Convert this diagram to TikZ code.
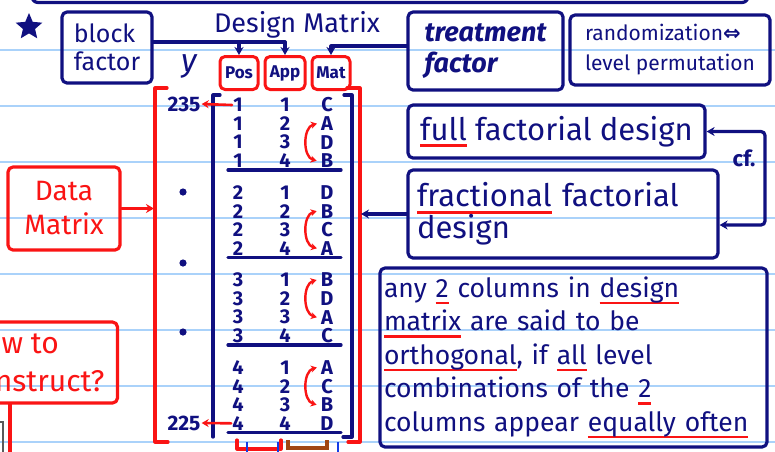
\documentclass[tikz,border=0pt]{standalone}
\usepackage{fontspec}
\setmainfont{Fira Sans}
\newfontfamily\symfont{DejaVu Sans}
\usetikzlibrary{arrows.meta,shapes.geometric}
\definecolor{navy}{RGB}{16,16,128}
\definecolor{inkred}{RGB}{250,20,20}
\definecolor{rulecol}{RGB}{170,210,250}
\definecolor{inkbrown}{RGB}{160,70,20}
\definecolor{inkblue}{RGB}{20,60,230}
\newcommand\redund[1]{\leavevmode\setbox0\hbox{#1}\rlap{\color{inkred}\rule[-7pt]{\wd0}{2.8pt}}\box0\relax}
\tikzset{
 nline/.style={draw=navy, line width=3.2pt, line cap=round, line join=round},
 rline/.style={draw=inkred, line width=3.2pt, line cap=round, line join=round},
 nbox/.style={nline, rounded corners=5pt, rectangle, inner sep=0pt, text=navy},
 rbox/.style={rline, rounded corners=5pt, rectangle, inner sep=0pt},
 cell/.style={text=navy, font=\bfseries\fontsize{20}{20}\selectfont, inner sep=1pt},
 tip/.style={-{Stealth[length=8pt,width=9pt]}},
 rtip/.style={-{Stealth[length=7pt,width=8pt]}},
 swap/.style={draw=inkred, line width=2.4pt, line cap=round, {Stealth[length=6pt,width=7pt]}-{Stealth[length=6pt,width=7pt]}}
}
\begin{document}
\begin{tikzpicture}[x=1pt,y=-1pt]
\useasboundingbox (0,0) rectangle (775,451);
\begin{scope}
\clip (0,0) rectangle (775,451);
\fill[white] (0,0) rectangle (775,451);
\foreach \yy in {50,106,162,218,274,330,386,442} {\draw[rulecol, line width=1.6pt] (0,\yy) -- (775,\yy);}
% top bar (bottom edge of a box above)
\draw[nline, rounded corners=6pt] (32,-40) rectangle (748,2.5);
% star
\node[star, star points=5, star point ratio=2.2, fill=navy, minimum size=28pt, inner sep=0pt] (star) at (29,27) {};
% header boxes
\node[nbox, minimum width=90pt, minimum height=71pt, align=left, font=\fontsize{25}{28}\selectfont] (block) at (107,47.5) {block\\factor};
\node[text=navy, font=\fontsize{27}{27}\selectfont] (dm) at (297,25) {Design Matrix};
\node[rbox, line width=3pt, minimum width=38pt, minimum height=33pt, text=navy, font=\bfseries\fontsize{17}{17}\selectfont] (pos) at (239,73) {Pos};
\node[rbox, line width=3pt, minimum width=40pt, minimum height=33pt, text=navy, font=\bfseries\fontsize{17}{17}\selectfont] (app) at (285,73) {App};
\node[rbox, line width=3pt, minimum width=38pt, minimum height=33pt, text=navy, font=\bfseries\fontsize{17}{17}\selectfont] (mat) at (331,73) {Mat};
\node[text=navy, font=\itshape\fontsize{32}{32}\selectfont] (ylab) at (189,66) {y};
\node[nbox, minimum width=155pt, minimum height=78pt, align=left, font=\bfseries\itshape\fontsize{27}{31}\selectfont] (treat) at (485.5,51) {treatment\\factor};
\node[nbox, minimum width=200pt, minimum height=70pt, align=left, font=\fontsize{21}{30}\selectfont] (rand) at (670,50) {randomization{\symfont\bfseries ⇔}\\level permutation};
% connectors from factors to columns
\path ([yshift=5.5pt]block.east) coordinate (bfo);
\draw[nline] (bfo) -- (bfo -| app.north);
\draw[nline, tip] (bfo -| pos.north) -- (pos.north);
\draw[nline, tip] (bfo -| app.north) -- (app.north);
\path ([yshift=5pt]treat.west) coordinate (tfo);
\draw[nline, tip] (tfo) -| (mat.north);
% data matrix brackets
\draw[rline] (167,88) -- (155,88) -- (155,442) -- (168,442);
\draw[rline] (347,88) -- (360,88) -- (360,442) -- (348,442);
\draw[nline] (220,95) -- (213,95) -- (213,437);
\draw[nline] (344,95) -- (352,95) -- (352,437) -- (343,437);
% matrix entries
\foreach \g/\la/\lb/\lc/\ld in {1/C/A/D/B, 2/D/B/C/A, 3/B/D/A/C, 4/A/C/B/D} {
  \foreach \r/\L in {1/\la,2/\lb,3/\lc,4/\ld} {
    \node[cell] (p-\g-\r) at (238,{105+(\g-1)*87.5+(\r-1)*18.6}) {\g};
    \node[cell] (a-\g-\r) at (285,{105+(\g-1)*87.5+(\r-1)*18.6}) {\r};
    \node[cell] (m-\g-\r) at (327,{105+(\g-1)*87.5+(\r-1)*18.6}) {\L};
  }
  \draw[nline] (228,{170+(\g-1)*87.5}) -- (341,{170+(\g-1)*87.5});
}
\draw[swap] ([xshift=-3pt]m-1-2.west) to[bend right=75] ([xshift=-3pt]m-1-4.west);
\draw[swap] ([xshift=-3pt]m-2-2.west) to[bend right=75] ([xshift=-3pt]m-2-4.west);
\draw[swap] ([xshift=-3pt]m-3-1.west) to[bend right=75] ([xshift=-3pt]m-3-3.west);
\draw[swap] ([xshift=-3pt]m-4-1.west) to[bend right=75] ([xshift=-3pt]m-4-3.west);
% y values
\node[text=navy, font=\bfseries\fontsize{21}{21}\selectfont, inner sep=1pt] (t235) at (184,104) {235};
\node[text=navy, font=\bfseries\fontsize{21}{21}\selectfont, inner sep=1pt] (t225) at (184,423) {225};
\draw[rline, line width=2.6pt, rtip] (p-1-1.west) -- (t235.east);
\draw[rline, line width=2.6pt, rtip] (p-4-4.west) -- (t225.east);
\fill[navy] (183,192) circle (3.6pt);
\fill[navy] (183,263) circle (3.6pt);
\fill[navy] (183,332) circle (3.6pt);
% bottom partial brackets
\draw[rline] (237,440) -- (237,449) -- (281,449) -- (281,440);
\draw[draw=inkbrown, line width=3.2pt] (288,440) -- (288,448) -- (327,448) -- (327,440);
\draw[draw=inkblue, line width=2.4pt] (247,442) -- (247,455);
\draw[draw=inkblue, line width=2.4pt] (278,442) -- (278,455);
\draw[draw=inkblue, line width=2.4pt] (338,442) -- (338,455);
% Data Matrix label
\node[rbox, minimum width=112pt, minimum height=83pt, align=center, text=inkred, font=\fontsize{28}{34}\selectfont] (datam) at (64,208.5) {Data\\Matrix};
\coordinate (dmL) at (154,208.5);
\draw[rline, tip] (datam.east) -- (dmL);
% How to construct
\node[rbox, minimum width=167pt, minimum height=81pt, align=left, text=inkred, font=\fontsize{30}{38}\selectfont] (howto) at (34,362.5) {How to\\construct?};
\coordinate (hdown) at (10,470);
\draw[rline] (howto.south -| hdown) -- (hdown);
\draw[gray!70!black, line width=1.2pt] (-5,422) -- (3,422) -- (3,460);
% designs
\node[nbox, minimum width=297pt, minimum height=53pt, font=\fontsize{31}{31}\selectfont] (full) at (556.5,131.5) {\redund{full} factorial design};
\node[nbox, minimum width=310pt, minimum height=88pt, align=left, text width=292pt, font=\fontsize{31}{32}\selectfont] (frac) at (563,214) {\redund{fractional} factorial\\design};
\coordinate (mR) at (361,214);
\draw[nline, tip] (frac.west) -- (mR);
\coordinate (cfc) at (765,131.5);
\draw[nline, rounded corners=4pt, {Stealth[length=8pt,width=9pt]}-{Stealth[length=8pt,width=9pt]}] (full.east) -- (cfc) |- ([yshift=-11pt]frac.east);
\node[text=navy, font=\bfseries\fontsize{22}{22}\selectfont] (cf) at (744,158) {cf.};
% orthogonality note
\node[nbox, minimum width=387pt, minimum height=179pt, align=left, text width=379pt, font=\fontsize{26.5}{33.5}\selectfont] (orth) at (573.5,357.5) {any \redund{2} columns in \redund{design}\\
\redund{matrix} are said to be\\
\redund{orthogonal}, if \redund{all} level\\
combinations of the \redund{2}\\
columns appear \redund{equally often}};
\end{scope}
\end{tikzpicture}
\end{document}
